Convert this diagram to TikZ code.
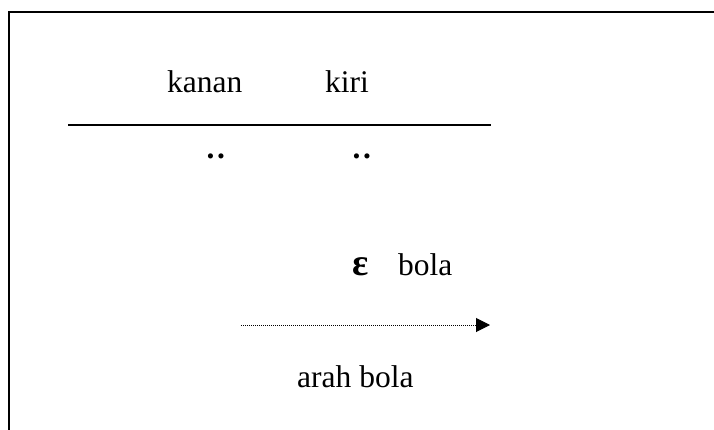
\documentclass[tikz,border=0pt]{standalone}
\usepackage{fontspec}
\setmainfont{Liberation Serif}
\usetikzlibrary{arrows.meta}
\tikzset{
  lbl/.style={anchor=base west, inner sep=0pt, font=\fontsize{31.5}{36}\selectfont},
  frameline/.style={line width=2pt, black},
  ruleline/.style={line width=2pt, black},
  dirarrow/.style={line width=1pt, dash pattern=on 1pt off 1pt, -{Triangle[length=14pt,width=14pt]}}
}
\begin{document}
\begin{tikzpicture}[x=1pt,y=-1pt]
\useasboundingbox (0,0) rectangle (714,430);
% frame (top and left only)
\coordinate (fb) at (8.5,432);
\coordinate (ftl) at (8.5,12.5);
\coordinate (ftr) at (716,12.5);
\draw[frameline] (fb) -- (ftl) -- (ftr);
% labels
\node[lbl] (kanan) at (167,93) {kanan};
\node[lbl] (kiri) at (325,93) {kiri};
\coordinate (l1) at (68,125);
\coordinate (l2) at (491,125);
\draw[ruleline] (l1) -- (l2);
\node[lbl] (d1) at (206.5,159) {\textbf{.\kern2.5pt.}};
\node[lbl] (d2) at (352.5,159) {\textbf{.\kern2.5pt.}};
\node[lbl, font=\fontsize{38}{40}\selectfont\bfseries] (eps) at (352,275) {ε};
\node[lbl] (bola) at (398,275) {bola};
\coordinate (as) at (241,325);
\coordinate (ae) at (490,325);
\draw[dirarrow] (as) -- (ae);
\node[lbl] (arah) at (297,387) {arah bola};
\end{tikzpicture}
\end{document}
